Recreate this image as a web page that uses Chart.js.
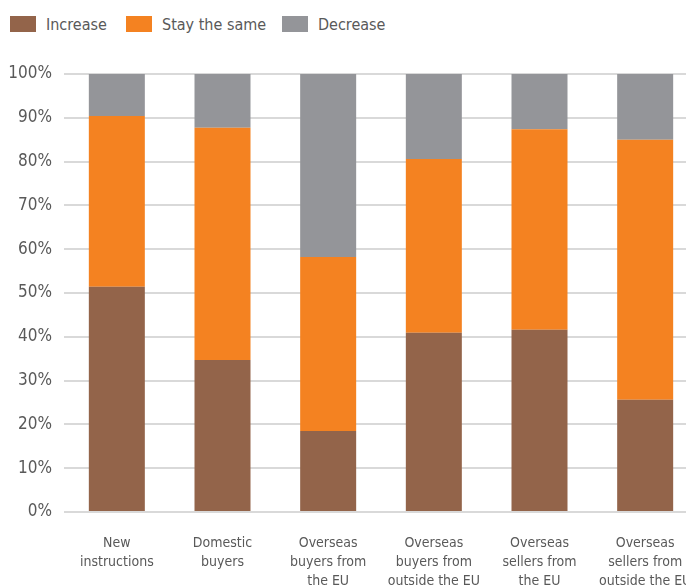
<!DOCTYPE html>
<html>
<head>
<meta charset="utf-8">
<script src="https://cdn.jsdelivr.net/npm/chart.js@4"></script>
<style>
    html, body { margin: 0; padding: 0; background: #fff; overflow: hidden; }
    body { width: 686px; height: 588px; position: relative; }
    .legend { position: absolute; top: 0; left: 0; width: 686px; height: 50px; }
    .legend-item { position: absolute; top: 14px; display: flex; align-items: center;
        font-family: 'Liberation Sans Narrow', 'DejaVu Sans Condensed', Roboto, sans-serif;
        font-size: 16px; color: #595959; height: 20px; }
    .legend-swatch { width: 26px; height: 16px; margin-right: 10px; }
    .chart-wrap { position: absolute; top: 50px; left: 0; }
</style>
</head>
<body>
<div class="legend"></div>
<div class="chart-wrap"><canvas id="chart" width="698" height="540"></canvas></div>
<script>
// Share of respondents expecting each activity to increase / stay the same / decrease
const categories = [
    ['New', 'instructions'],
    ['Domestic', 'buyers'],
    ['Overseas', 'buyers from', 'the EU'],
    ['Overseas', 'buyers from', 'outside the EU'],
    ['Overseas', 'sellers from', 'the EU'],
    ['Overseas', 'sellers from', 'outside the EU']
];
const increase = [51.4, 34.7, 18.5, 40.9, 41.6, 25.6];
const staySame = [39.0, 53.0, 39.7, 39.7, 45.8, 59.4];
const decrease = [9.6, 12.3, 41.8, 19.4, 12.6, 15.0];
const seriesNames = ['Increase', 'Stay the same', 'Decrease'];
const seriesColors = ['#93644a', '#f48221', '#949599'];

const FONT = "'Liberation Sans Narrow', 'DejaVu Sans Condensed', Roboto, sans-serif";
const TEXT = '#595959';

// simple html legend, left aligned above the plot
const legendX = [10, 126, 282];
const legendEl = document.querySelector('.legend');
legendEl.innerHTML = seriesNames.map((name, i) =>
    `<div class="legend-item" style="left:${legendX[i]}px">
        <span class="legend-swatch" style="background:${seriesColors[i]}"></span>${name}
    </div>`
).join('');

const values = [increase, staySame, decrease];

new Chart(document.getElementById('chart'), {
    type: 'bar',
    data: {
        labels: categories,
        datasets: values.map((data, i) => ({
            label: seriesNames[i],
            data,
            backgroundColor: seriesColors[i],
            borderWidth: 0,
            categoryPercentage: 1,
            barPercentage: 0.53
        }))
    },
    options: {
        responsive: false,
        animation: false,
        layout: { padding: { top: 24, left: 0, right: 0, bottom: 0 } },
        plugins: {
            legend: { display: false },
            tooltip: { enabled: false }
        },
        scales: {
            x: {
                stacked: true,
                grid: { display: false, drawTicks: false },
                border: { display: false },
                ticks: {
                    color: TEXT,
                    padding: 22,
                    maxRotation: 0,
                    autoSkip: false,
                    font: { family: FONT, size: 14, lineHeight: 1.35 }
                },
                // the last label is allowed to run off the right edge
                afterFit: s => { s.height = 78; s.paddingLeft = 0; s.paddingRight = 0; }
            },
            y: {
                stacked: true,
                min: 0,
                max: 100,
                border: { display: false },
                grid: { color: '#d9d9d9', lineWidth: 2, drawTicks: false },
                ticks: {
                    stepSize: 10,
                    color: TEXT,
                    padding: 12,
                    font: { family: FONT, size: 17 },
                    callback: v => v + '%'
                },
                afterFit: s => { s.width = 64; }
            }
        }
    }
});
</script>
</body>
</html>
